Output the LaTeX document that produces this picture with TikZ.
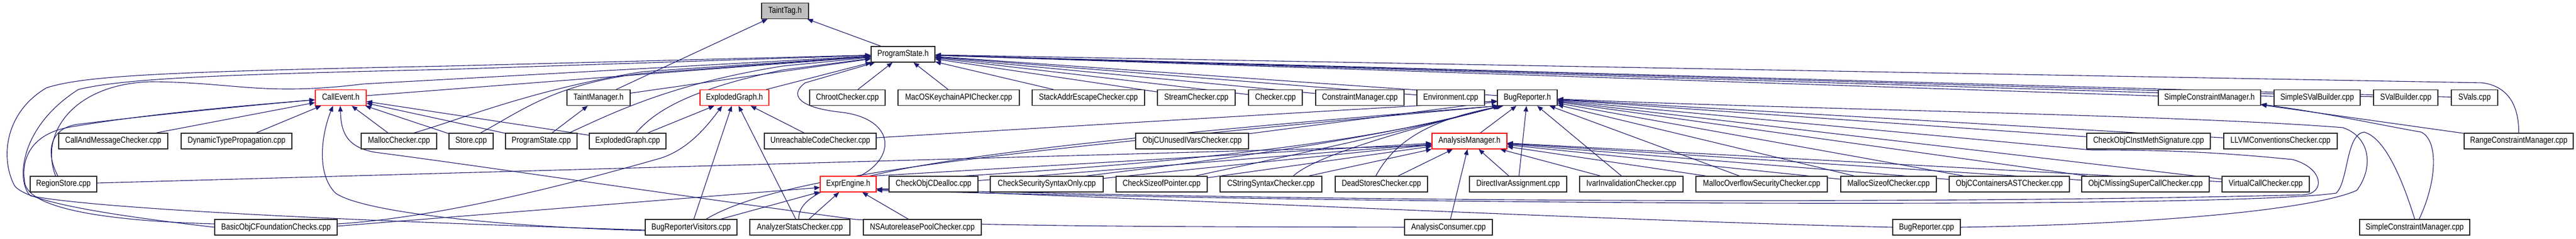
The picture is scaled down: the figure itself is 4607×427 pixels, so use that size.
\documentclass[tikz,border=0pt]{standalone}
\usepackage{fontspec}
\setmainfont{Liberation Sans}[FakeStretch=0.845]
\usetikzlibrary{arrows.meta}
\definecolor{edgeblue}{RGB}{25,25,112}
\definecolor{tagfill}{RGB}{191,191,191}
\pgfdeclarelayer{bg}
\pgfsetlayers{bg,main}
\tikzset{
  box/.style={draw=black!85, line width=1.3pt, fill=white, inner sep=0pt,
    minimum height=28pt, text height=11pt, text depth=3pt,
    font=\fontsize{15.5}{18}\selectfont},
  redbox/.style={box, draw=red},
  dep/.style={draw=edgeblue, line width=1.1pt, -{Triangle[length=10pt,width=8pt]}}
}
\begin{document}
\begin{tikzpicture}[x=1pt,y=-1pt]
\useasboundingbox (0,0) rectangle (4607,427);
% row 0
\node[box,fill=tagfill,minimum width=84pt] (tt) at (1404,19.5) {TaintTag.h};
% row 1
\node[box,minimum width=114pt] (ps) at (1615,97) {ProgramState.h};
% row 2
\node[redbox,minimum width=91pt] (ce) at (609.5,174.5) {CallEvent.h};
\node[box,minimum width=113pt] (tm) at (1070.5,174.5) {TaintManager.h};
\node[redbox,minimum width=123pt] (egh) at (1313.5,174.5) {ExplodedGraph.h};
\node[box,minimum width=135pt] (chroot) at (1515.5,174.5) {ChrootChecker.cpp};
\node[box,minimum width=217pt] (macos) at (1714.5,174.5) {MacOSKeychainAPIChecker.cpp};
\node[box,minimum width=201pt] (stack) at (1946.5,174.5) {StackAddrEscapeChecker.cpp};
\node[box,minimum width=139pt] (stream) at (2139.5,174.5) {StreamChecker.cpp};
\node[box,minimum width=96pt] (checker) at (2281,174.5) {Checker.cpp};
\node[box,minimum width=158pt] (cmgr) at (2432,174.5) {ConstraintManager.cpp};
\node[box,minimum width=121pt] (env) at (2594.5,174.5) {Environment.cpp};
\node[box,minimum width=107pt] (brh) at (2731.5,174.5) {BugReporter.h};
\node[box,minimum width=183pt] (scmh) at (3951.5,174.5) {SimpleConstraintManager.h};
\node[box,minimum width=154pt] (ssvb) at (4144,174.5) {SimpleSValBuilder.cpp};
\node[box,minimum width=115pt] (svb) at (4302.5,174.5) {SValBuilder.cpp};
\node[box,minimum width=83pt] (svals) at (4425.5,174.5) {SVals.cpp};
% row 3
\node[box,minimum width=195pt] (camc) at (202.5,252) {CallAndMessageChecker.cpp};
\node[box,minimum width=198pt] (dtp) at (423,252) {DynamicTypePropagation.cpp};
\node[box,minimum width=135pt] (malloc) at (713.5,252) {MallocChecker.cpp};
\node[box,minimum width=79pt] (store) at (842.5,252) {Store.cpp};
\node[box,minimum width=128pt] (pscpp) at (968,252) {ProgramState.cpp};
\node[box,minimum width=137pt] (egcpp) at (1122.5,252) {ExplodedGraph.cpp};
\node[box,minimum width=200pt] (unreach) at (1467,252) {UnreachableCodeChecker.cpp};
\node[box,minimum width=202pt] (unused) at (2132,252) {ObjCUnusedIVarsChecker.cpp};
\node[redbox,minimum width=134pt] (amh) at (2628,252) {AnalysisManager.h};
\node[box,minimum width=221pt] (instmeth) at (3842.5,252) {CheckObjCInstMethSignature.cpp};
\node[box,minimum width=203pt] (llvm) at (4078.5,252) {LLVMConventionsChecker.cpp};
\node[box,minimum width=195pt] (rcm) at (4504.5,252) {RangeConstraintManager.cpp};
% row 4
\node[box,minimum width=119pt] (rstore) at (113.5,329) {RegionStore.cpp};
\node[redbox,minimum width=100pt] (eeh) at (1517,329) {ExprEngine.h};
\node[box,minimum width=159pt] (dealloc) at (1669.5,329) {CheckObjCDealloc.cpp};
\node[box,minimum width=202pt] (secsyn) at (1872,329) {CheckSecuritySyntaxOnly.cpp};
\node[box,minimum width=163pt] (sizeof) at (2077.5,329) {CheckSizeofPointer.cpp};
\node[box,minimum width=182pt] (cstring) at (2273,329) {CStringSyntaxChecker.cpp};
\node[box,minimum width=165pt] (dead) at (2470.5,329) {DeadStoresChecker.cpp};
\node[box,minimum width=174pt] (direct) at (2715,329) {DirectIvarAssignment.cpp};
\node[box,minimum width=185pt] (ivar) at (2917.5,329) {IvarInvalidationChecker.cpp};
\node[box,minimum width=235pt] (mover) at (3150.5,329) {MallocOverflowSecurityChecker.cpp};
\node[box,minimum width=171pt] (msizeof) at (3377.5,329) {MallocSizeofChecker.cpp};
\node[box,minimum width=215pt] (containers) at (3593.5,329) {ObjCContainersASTChecker.cpp};
\node[box,minimum width=228pt] (missing) at (3837,329) {ObjCMissingSuperCallChecker.cpp};
\node[box,minimum width=156pt] (virtual) at (4052,329) {VirtualCallChecker.cpp};
% row 5
\node[box,minimum width=219pt] (bofc) at (493.5,406) {BasicObjCFoundationChecks.cpp};
\node[box,minimum width=164pt] (brv) at (1236,406) {BugReporterVisitors.cpp};
\node[box,minimum width=179pt] (stats) at (1430.5,406) {AnalyzerStatsChecker.cpp};
\node[box,minimum width=211pt] (nsauto) at (1649.5,406) {NSAutoreleasePoolChecker.cpp};
\node[box,minimum width=157pt] (consumer) at (2590.5,406) {AnalysisConsumer.cpp};
\node[box,minimum width=121pt] (brcpp) at (3445.5,406) {BugReporter.cpp};
\node[box,minimum width=197pt] (scmcpp) at (4318.5,406) {SimpleConstraintManager.cpp};

\begin{pgfonlayer}{bg}
% TaintTag.h and TaintManager.h
\draw[dep] (ps) -- (tt);
\draw[dep] (tm) -- (tt);
\draw[dep] (pscpp) -- (tm);
% ProgramState.h
\foreach \s in {ce,tm,egh,chroot,macos,stack,stream,checker,cmgr,env,brh,scmh,ssvb,svb,svals}
  \draw[dep] (\s) -- (ps);
\draw[dep] (rcm.north) .. controls (4505,195) and (4490,155) .. (4440,148) -- (ps);
\draw[dep] ([xshift=-14pt]rstore.north) .. controls (70,240) and (130,150) .. (270,146) .. controls (420,147) and (470,172) .. (650,150) -- (ps);
\draw[dep] (bofc.west) .. controls (200,385) and (40,360) .. (25,330) .. controls (0,280) and (10,200) .. (83,157) .. controls (150,135) and (300,128) .. (800,118) -- (ps);
\draw[dep] ([yshift=-5pt]brv.west) .. controls (800,400) and (200,378) .. (55,350) .. controls (30,330) and (30,230) .. (140,160) .. controls (220,140) and (400,133) .. (800,124) -- (ps);
\draw[dep] ([xshift=27pt]malloc.north) .. controls (820,215) and (950,160) .. (1150,128) -- (ps);
\draw[dep] ([xshift=17pt]store.north) .. controls (930,200) and (990,150) .. (1150,131) -- (ps);
\draw[dep] ([xshift=50pt]pscpp.north) .. controls (1100,200) and (1200,150) .. (1400,118) -- (ps);
\draw[dep] ([xshift=15pt]egcpp.north) .. controls (1170,200) and (1230,160) .. (1400,125) -- (ps);
\draw[dep] ([xshift=21pt]eeh.north) .. controls (1605,280) and (1600,210) .. (1500,200) .. controls (1430,192) and (1410,170) .. (1440,148) -- (ps);
% CallEvent.h
\draw[dep] (camc) -- (ce);
\draw[dep] (dtp) -- (ce);
\draw[dep] (malloc) -- (ce);
\draw[dep] (store) -- (ce);
\draw[dep] (pscpp) -- (ce);
\draw[dep] (egcpp) -- (ce);
\draw[dep] ([xshift=-10pt]rstore.north) .. controls (80,270) and (90,228) .. (140,222) .. controls (250,208) and (450,188) .. (ce);
\draw[dep] ([yshift=6pt]bofc.west) .. controls (200,395) and (60,375) .. (45,330) .. controls (35,280) and (60,240) .. (120,228) .. controls (250,205) and (420,190) .. (ce);
\draw[dep] ([yshift=-6pt]brv.west) .. controls (900,405) and (650,380) .. (600,345) .. controls (565,310) and (575,240) .. ([xshift=-14pt]ce.south);
\draw[dep] (consumer.west) .. controls (2100,405) and (1750,405) .. (1530,392) .. controls (1250,355) and (850,295) .. (670,272) .. controls (615,262) and (610,230) .. ([xshift=-1pt]ce.south);
% ExplodedGraph.h
\draw[dep] (egcpp) -- (egh);
\draw[dep] (unreach) -- (egh);
\draw[dep] (brv) -- (egh);
\draw[dep] (stats) -- (egh);
\draw[dep] ([yshift=6pt]bofc.east) .. controls (800,388) and (1050,320) .. (1180,283) .. controls (1230,268) and (1265,225) .. ([xshift=-22pt]egh.south);
% ExprEngine.h
\draw[dep] ([yshift=2pt]bofc.east) -- ([yshift=-6pt]eeh.west);
\draw[dep] (brv) -- (eeh);
\draw[dep] (stats) -- (eeh);
\draw[dep] (nsauto) -- (eeh);
\draw[dep] (brcpp.west) .. controls (2900,395) and (2100,355) .. ([yshift=-9pt]eeh.east);
\draw[dep] (scmcpp.north) .. controls (4290,300) and (4260,245) .. (4228,236) .. controls (4195,240) and (4200,325) .. (4178,345) .. controls (4000,372) and (2600,368) .. ([yshift=-11pt]eeh.east);
% AnalysisManager.h
\draw[dep] ([yshift=2pt]rstore.east) -- ([yshift=-8pt]amh.west);
\draw[dep] ([xshift=46pt]eeh.north) -- (amh);
\foreach \s in {dealloc,secsyn,sizeof,cstring,dead,consumer,direct,ivar,mover,msizeof,containers,missing,virtual}
  \draw[dep] (\s) -- (amh);
% BugReporter.h
\foreach \s in {amh,direct,ivar,mover,msizeof,containers,missing,virtual,instmeth,llvm,unused}
  \draw[dep] (\s) -- (brh);
\draw[dep] (unreach) -- ([yshift=-6pt]brh.west);
\draw[dep] ([xshift=55pt]dealloc.north) .. controls (1950,300) and (2400,270) .. ([xshift=3pt]brh.south west);
\draw[dep] ([xshift=70pt]secsyn.north) .. controls (2100,295) and (2440,255) .. ([xshift=5pt]brh.south west);
\draw[dep] ([xshift=60pt]sizeof.north) .. controls (2250,290) and (2470,245) .. ([xshift=7pt]brh.south west);
\draw[dep] ([xshift=40pt]cstring.north) .. controls (2350,280) and (2500,235) .. ([xshift=9pt]brh.south west);
\draw[dep] ([xshift=-10pt]dead.north) .. controls (2490,260) and (2545,215) .. ([xshift=11pt]brh.south west);
\draw[dep] ([xshift=27pt]brv.north) .. controls (1400,310) and (1800,270) .. ([xshift=1pt]brh.south west);
\draw[dep] ([xshift=-2pt]stats.north) .. controls (1428,320) and (1600,275) .. ([xshift=2pt]brh.south west);
\draw[dep] ([yshift=-8pt]eeh.east) .. controls (2500,365) and (3600,362) .. (4120,348) .. controls (4160,345) and (4155,300) .. (4100,285) .. controls (3950,270) and (3850,268) .. (3740,268) -- (brh);
\draw[dep] (brcpp.east) .. controls (3900,400) and (4150,370) .. (4215,340) .. controls (4245,300) and (4240,245) .. (4190,228) .. controls (3900,205) and (3200,195) .. (brh);
% SimpleConstraintManager.h
\draw[dep] (rcm) -- (scmh);
\draw[dep] ([xshift=8pt]scmcpp.north) .. controls (4360,320) and (4360,250) .. (4330,236) .. controls (4250,222) and (4150,200) .. (scmh);
\end{pgfonlayer}
\end{tikzpicture}
\end{document}
